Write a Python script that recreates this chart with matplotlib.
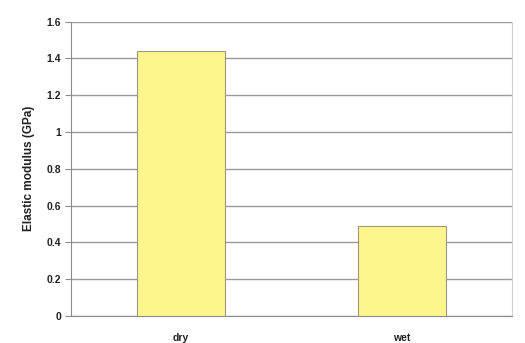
import matplotlib
matplotlib.use("Agg")
import matplotlib.pyplot as plt

conditions = ["dry", "wet"]
modulus_gpa = [1.44, 0.49]
y_ticks = [0, 0.2, 0.4, 0.6, 0.8, 1.0, 1.2, 1.4, 1.6]
y_tick_labels = ["0", "0.2", "0.4", "0.6", "0.8", "1", "1.2", "1.4", "1.6"]

plt.rcParams['font.family'] = ['Liberation Sans', 'DejaVu Sans']

fig = plt.figure(figsize=(5.25, 3.43), dpi=100)
ax = fig.add_axes([0.135, 0.079, 0.84, 0.858])

x = range(len(conditions))
ax.bar(x, modulus_gpa, width=0.4, color="#FFF58F", edgecolor="#9a9a7a",
       linewidth=0.8, zorder=3)

ax.set_xlim(-0.5, len(conditions) - 0.5)
ax.set_ylim(0, 1.6)
ax.set_yticks(y_ticks)
ax.set_yticklabels(y_tick_labels)
ax.set_xticks(list(x))
ax.set_xticklabels(conditions)
ax.yaxis.grid(True, color="#9a9a9a", linewidth=1.0, zorder=0)
ax.set_axisbelow(True)

ax.spines["top"].set_visible(False)
ax.spines["right"].set_color("#d0d0d0")
ax.spines["left"].set_color("#8c8c8c")
ax.spines["bottom"].set_color("#8c8c8c")

ax.tick_params(axis="y", length=4, width=0.8, color="#8c8c8c",
               labelsize=7.5, pad=3)
ax.tick_params(axis="x", length=0, labelsize=7.5, pad=12)
for lbl in ax.get_xticklabels() + ax.get_yticklabels():
    lbl.set_fontweight("bold")
    lbl.set_color("#222222")

ax.set_ylabel("Elastic modulus (GPa)", fontsize=8.5, fontweight="bold",
              color="#222222", labelpad=8)

fig.savefig("out.png", dpi=100, facecolor="white")
